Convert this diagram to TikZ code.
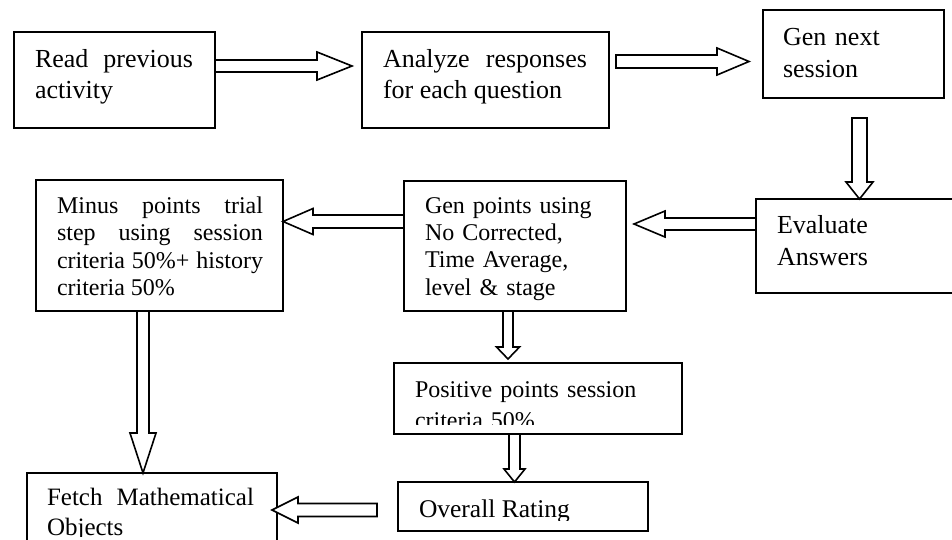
\documentclass[tikz,border=0pt]{standalone}
\usepackage{fontspec}
\setmainfont{Liberation Serif}
\usetikzlibrary{calc}
\tikzset{
  box/.style={draw, line width=1.6pt, rectangle, inner sep=0pt, outer sep=0pt},
  barr/.style={draw, line width=1.6pt, fill=white, line join=miter},
  txt/.style={anchor=base west, inner sep=0pt, outer sep=0pt},
  big/.style={font=\fontsize{26}{31}\selectfont},
  bigw/.style={font=\fontsize{26}{32}\selectfont},
  mid/.style={font=\fontsize{24}{27.6}\selectfont},
}
% start, tip, shaft half width, head half width, head length
\newcommand\blockarr[5]{%
  \coordinate (hh) at ($(#2)!#5!(#1)$);
  \draw[barr] ($(#1)!#3!90:(#2)$) -- ($(hh)!#3!-90:(#1)$) -- ($(hh)!#4!-90:(#1)$)
     -- (#2) -- ($(hh)!#4!90:(#1)$) -- ($(hh)!#3!90:(#1)$) -- ($(#1)!#3!-90:(#2)$) -- cycle;}
\begin{document}
\begin{tikzpicture}[x=1pt,y=-1pt]
\clip (0,0) rectangle (952,539);
% boxes
\node[box, minimum width=201pt, minimum height=96pt] (b1) at (114.5,80) {};
\node[box, minimum width=247pt, minimum height=96pt] (b2) at (485.5,80) {};
\node[box, minimum width=181pt, minimum height=88pt] (b3) at (853.5,54) {};
\node[box, minimum width=214pt, minimum height=94pt] (b4) at (863,246) {};
\node[box, minimum width=222pt, minimum height=130pt] (b5) at (515,246) {};
\node[box, minimum width=247pt, minimum height=131pt] (b6) at (159.5,245.5) {};
\node[box, minimum width=250pt, minimum height=87pt] (b7) at (152,516.5) {};
\node[box, minimum width=288pt, minimum height=71pt] (b8) at (538,398.5) {};
\node[box, minimum width=250pt, minimum height=49pt] (b9) at (523,506.5) {};
% texts
\node[txt, big, text width=158pt, align=justify] (t1) at (35,67) {Read previous activity};
\node[txt, big, text width=204pt, align=justify] (t2) at (383,67) {Analyze responses for each question};
\node[txt, bigw, text width=150pt, align=left] (t3) at (783,45) {Gen next\\session};
\node[txt, bigw, text width=150pt, align=left] (t4) at (777,233) {Evaluate\\Answers};
\node[txt, font=\fontsize{24}{27.4}\selectfont, text width=190pt, align=left] (t5) at (425,213) {Gen points using\\No Corrected,\\Time Average,\\level \& stage};
\node[txt, mid, text width=206pt, align=justify] (t6) at (57,213) {Minus points trial step using session criteria 50\%+ history criteria 50\%};
\begin{scope}
\clip (27,473) rectangle (277,536);
\node[txt, font=\fontsize{25}{30}\selectfont, text width=207pt, align=justify] (t7) at (47,505) {Fetch Mathematical Objects};
\end{scope}
\begin{scope}
\clip (394,363) rectangle (682,424);
\node[txt, font=\fontsize{24}{31}\selectfont, text width=250pt, align=left] (t8) at (415,397) {Positive points session\\criteria 50\%};
\end{scope}
\begin{scope}
\clip (398,482) rectangle (648,520);
\node[txt, font=\fontsize{25.5}{30}\selectfont] (t9) at (419,517) {Overall Rating};
\end{scope}
% arrow end points
\coordinate (a1s) at (b1.east |- 0,66);
\coordinate (a1t) at ($(b2.west |- 0,66)+(-10,0)$);
\coordinate (a2s) at ($(b2.east |- 0,61.5)+(7,0)$);
\coordinate (a2t) at ($(b3.west |- 0,61.5)+(-14,0)$);
\coordinate (a3s) at ($(b3.south)+(6,20)$);
\coordinate (a3t) at (a3s |- b4.north);
\coordinate (a4s) at (b4.west |- 0,224);
\coordinate (a4t) at ($(b5.east |- 0,224)+(8,0)$);
\coordinate (a5s) at (b5.west |- 0,221.5);
\coordinate (a5t) at (b6.east |- 0,221.5);
\coordinate (a6s) at (b6.south -| 143,0);
\coordinate (a6t) at (b7.north -| 143,0);
\coordinate (a7s) at (b5.south -| 508,0);
\coordinate (a7t) at ($(b8.north -| 508,0)+(0,-4)$);
\coordinate (a8s) at (b8.south -| 514.5,0);
\coordinate (a8t) at (b9.north -| 514.5,0);
\coordinate (a9s) at ($(b9.west |- 0,510)+(-21,0)$);
\coordinate (a9t) at ($(b7.east |- 0,510)+(-5,0)$);
% block arrows
\blockarr{a1s}{a1t}{6pt}{14pt}{35pt}
\blockarr{a2s}{a2t}{6.5pt}{13.5pt}{32pt}
\blockarr{a3s}{a3t}{7.5pt}{13.5pt}{17pt}
\blockarr{a4s}{a4t}{6pt}{13pt}{31pt}
\blockarr{a5s}{a5t}{6.5pt}{13pt}{30pt}
\blockarr{a6s}{a6t}{6pt}{13pt}{40pt}
\blockarr{a7s}{a7t}{5pt}{11.5pt}{12pt}
\blockarr{a8s}{a8t}{5.5pt}{10.5pt}{13pt}
\blockarr{a9s}{a9t}{6.5pt}{13pt}{26pt}
\end{tikzpicture}
\end{document}
